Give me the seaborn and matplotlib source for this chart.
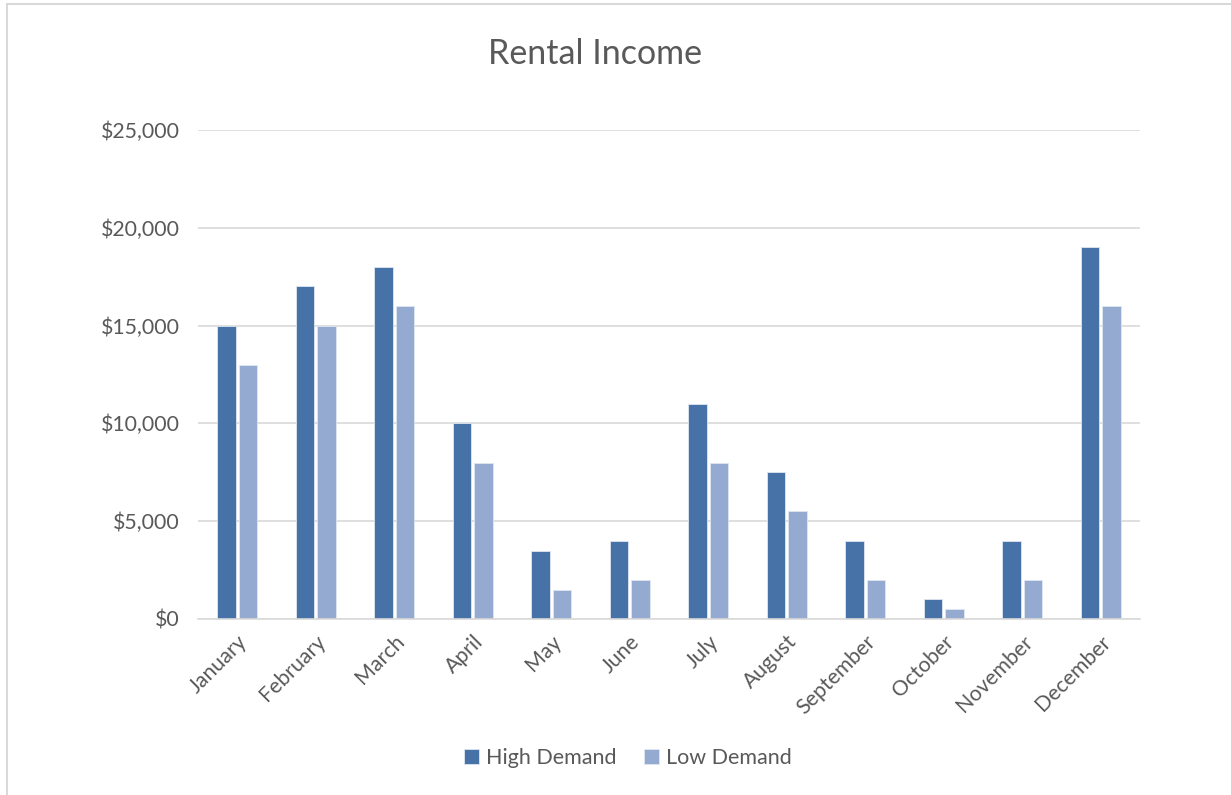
import matplotlib
matplotlib.use("Agg")
import matplotlib.pyplot as plt
import matplotlib.patches as mpatches
from matplotlib.ticker import FuncFormatter
import seaborn as sns
import pandas as pd

months = ["January", "February", "March", "April", "May", "June", "July",
          "August", "September", "October", "November", "December"]
high_demand = [15000, 17000, 18000, 10000, 3500, 4000, 11000, 7500, 4000, 1000, 4000, 19000]
low_demand = [13000, 15000, 16000, 8000, 1500, 2000, 8000, 5500, 2000, 500, 2000, 16000]
series_names = ["High Demand", "Low Demand"]
colors = ["#4672A8", "#95AAD1"]

df = pd.DataFrame({
    "Month": months * 2,
    "Value": high_demand + low_demand,
    "Series": [series_names[0]] * len(months) + [series_names[1]] * len(months),
})

sns.set_theme(style="white")
plt.rcParams['font.family'] = ['Lato', 'DejaVu Sans']

fig = plt.figure(figsize=(12.31, 7.95), dpi=100)
ax = fig.add_axes([0.1608, 0.2214, 0.7652, 0.6151])

sns.barplot(data=df, x="Month", y="Value", hue="Series", order=months,
            hue_order=series_names, palette=colors, width=0.55, gap=0.15,
            saturation=1, edgecolor="#dfe6f0", linewidth=0.6, ax=ax, legend=True)

ax.set_ylim(0, 25000)
ax.set_xlim(-0.5, len(months) - 0.5)
ax.set_yticks([0, 5000, 10000, 15000, 20000, 25000])
ax.yaxis.set_major_formatter(FuncFormatter(lambda v, p: f"${v:,.0f}"))
ax.grid(axis="y", color="#d9d9d9", linewidth=1.2)
ax.set_axisbelow(True)
for s in ["left", "right", "top"]:
    ax.spines[s].set_visible(False)
ax.spines["bottom"].set_color("#d9d9d9")
ax.spines["bottom"].set_linewidth(1.2)
ax.tick_params(axis="both", length=0, colors="#595959", labelsize=15.3)
ax.tick_params(axis="y", pad=13)
ax.tick_params(axis="x", pad=9)
for lbl in ax.get_xticklabels():
    lbl.set_rotation(45)
    lbl.set_ha("right")
    lbl.set_rotation_mode("anchor")
ax.set_xlabel("")
ax.set_ylabel("")

fig.text(0.483, 0.932, "Rental Income", ha="center", va="center",
         fontsize=24.5, color="#595959")

handles, labels = ax.get_legend_handles_labels()
ax.legend_.remove()
fig.legend(handles, labels, loc="center", bbox_to_anchor=(0.51, 0.046), ncol=2,
           frameon=False, fontsize=15.5, handlelength=0.7, handleheight=0.7,
           handletextpad=0.3, columnspacing=1.3, labelcolor="#595959")

fig.patches.append(mpatches.Rectangle((0.0057, -0.01), 1.2, 1.005, transform=fig.transFigure,
                                      fill=False, edgecolor="#d9d9d9", linewidth=1.5))

fig.savefig("out.png", dpi=100)
